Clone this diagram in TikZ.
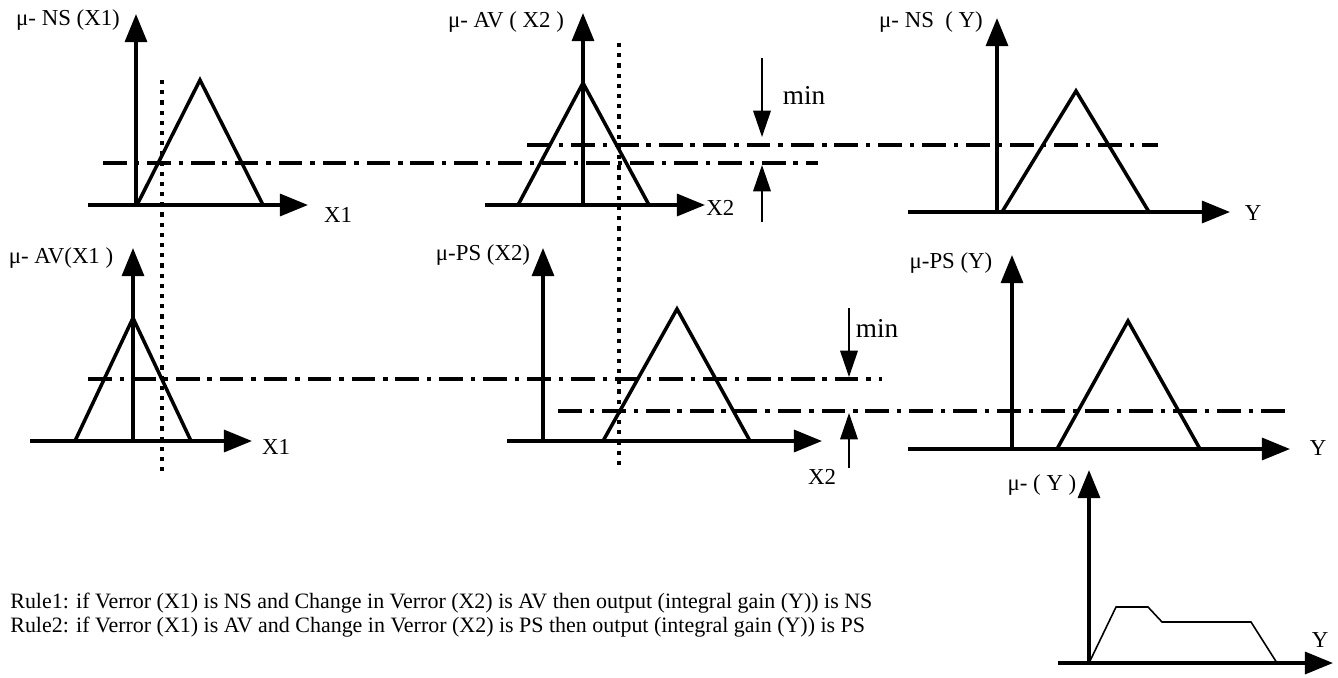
\documentclass[tikz,border=0pt]{standalone}
\usepackage{fontspec}
\setmainfont{Liberation Serif}
\usetikzlibrary{arrows.meta}

\begin{document}
\begin{tikzpicture}[
        x=0.02cm, y=-0.02cm,
        axis/.style={line width=2pt, -{Triangle[length=16pt,width=12.5pt]}},
        memb/.style={line width=2pt, line join=miter},
        agg/.style={line width=0.9pt, line join=miter},
        cut/.style={line width=2.2pt, dash pattern=on 13.5pt off 4.5pt on 2.5pt off 4.5pt},
        probe/.style={line width=2.2pt, dash pattern=on 2.4pt off 3.4pt},
        minarrow/.style={line width=1pt, -{Triangle[length=15pt,width=10pt]}},
        lbl/.style={inner sep=0pt, font=\fontsize{13}{15}\selectfont},
        minlbl/.style={inner sep=0pt, font=\fontsize{15.5}{17}\selectfont},
        rule/.style={inner sep=0pt, anchor=base west, font=\fontsize{12.5}{15}\selectfont}
        ]
        \useasboundingbox (0,0) rectangle (1338,677);

        % mu-NS(X1)
        \draw[memb] (137,205) -- (200,80) -- (263,205) -- cycle;
        \draw[axis] (88,205) -- (308,205);
        \draw[axis] (136,205) -- (136,14);
        \node[lbl] (nsx1) at (68,20) {μ- NS (X1)};
        \node[lbl] (x1top) at (338,215) {X1};

        % mu-AV(X2)
        \draw[memb] (518,205) -- (583,83) -- (649,205) -- cycle;
        \draw[axis] (485,205) -- (705,205);
        \draw[axis] (583,205) -- (583,13);
        \node[lbl] (avx2) at (506,22) {μ- AV ( X2 )};
        \node[lbl, anchor=west] (x2top) at (706,208) {X2};

        % mu-NS(Y)
        \draw[memb] (1002,212) -- (1076,91) -- (1149,212) -- cycle;
        \draw[axis] (908,212) -- (1230,212);
        \draw[axis] (997,212) -- (997,18);
        \node[lbl] (nsy) at (931,22) {μ- NS\ \ ( Y)};
        \node[lbl] (ytop) at (1253,213) {Y};

        % mu-AV(X1)
        \draw[memb] (75,441) -- (133,318) -- (191,441) -- cycle;
        \draw[axis] (30,441) -- (252,441);
        \draw[axis] (133,441) -- (133,248);
        \node[lbl] (avx1) at (61,258) {μ- AV(X1 )};
        \node[lbl] (x1bot) at (276,447) {X1};

        % mu-PS(X2)
        \draw[memb] (603,441) -- (677,309) -- (750,441) -- cycle;
        \draw[axis] (507,441) -- (822,441);
        \draw[axis] (543,441) -- (543,248);
        \node[lbl] (psx2) at (483,255) {μ-PS (X2)};
        \node[lbl] (x2bot) at (822,477) {X2};

        % mu-PS(Y)
        \draw[memb] (1057,449) -- (1128,321) -- (1200,449) -- cycle;
        \draw[axis] (908,449) -- (1290,449);
        \draw[axis] (1012,449) -- (1012,255);
        \node[lbl] (psy) at (951,263) {μ-PS (Y)};
        \node[lbl] (ybot) at (1318,448) {Y};

        % inputs and firing levels
        \draw[probe] (162,80) -- (162,473);
        \draw[probe] (619,43) -- (619,467);
        \draw[cut] (103,163) -- (818,163);
        \draw[cut] (527,145) -- (1158,145);
        \draw[cut] (88,379) -- (882,379);
        \draw[cut] (558,411) -- (1292,411);

        \draw[minarrow] (762,58) -- (762,137);
        \draw[minarrow] (762,222) -- (762,165);
        \node[minlbl] (mintop) at (804,95) {min};
        \draw[minarrow] (849,308) -- (849,377);
        \draw[minarrow] (849,468) -- (849,413);
        \node[minlbl] (minbot) at (877,328) {min};

        % aggregated output
        \draw[agg] (1089,663) -- (1116,607) -- (1148,607) -- (1162,622) -- (1251,622) -- (1277,663);
        \draw[axis] (1058,663) -- (1333,663);
        \draw[axis] (1089,663) -- (1089,470);
        \node[lbl] (muy) at (1042,485) {μ- ( Y )};
        \node[lbl] (yout) at (1320,640) {Y};

        \node[rule] (rule1) at (10,608) {Rule1: if Verror (X1) is NS and Change in Verror (X2) is AV then output (integral gain (Y)) is NS};
        \node[rule] (rule2) at (10,632) {Rule2: if Verror (X1) is AV and Change in Verror (X2) is PS then output (integral gain (Y)) is PS};
\end{tikzpicture}
\end{document}
